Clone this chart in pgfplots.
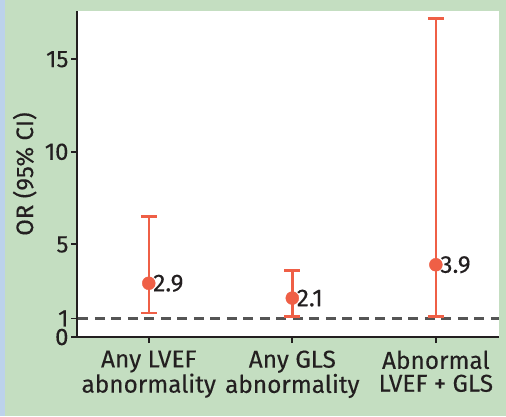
\documentclass[border=0pt]{standalone}
\usepackage{fontspec}
\setmainfont{Fira Sans}[FakeBold=0.2]
\usepackage{pgfplots}
\pgfplotsset{compat=1.18}
\definecolor{bggreen}{RGB}{196,222,193}
\definecolor{stripblue}{RGB}{188,210,235}
\definecolor{ciorange}{RGB}{239,95,70}
\definecolor{txt}{RGB}{35,31,32}
\definecolor{dashgray}{RGB}{85,85,85}

\begin{document}
\begin{tikzpicture}[x=1bp,y=1bp]
  \fill[bggreen] (0,0) rectangle (506,416);
  \fill[stripblue] (0,0) rectangle (5,416);
  \begin{axis}[
      at={(77bp,79bp)}, anchor=south west,
      scale only axis, width=422bp, height=326bp,
      xmin=-0.5, xmax=2.44, ymin=0, ymax=17.6,
      axis x line*=bottom, axis y line*=left,
      axis background/.style={fill=white},
      axis line style={-, line width=2.2bp, txt},
      tick align=outside, major tick length=6bp,
      tick style={line width=1.8bp, txt},
      xtick={0,1,2}, ytick={0,1,5,10,15},
      xticklabels={{Any LVEF\\abnormality},{Any GLS\\abnormality},{Abnormal\\LVEF + GLS}},
      xticklabel style={align=center, font=\fontsize{24.5}{23}\selectfont, text=txt, yshift=-4bp},
      yticklabel style={font=\fontsize{24}{24}\selectfont, text=txt, xshift=1bp,
        inner ysep=0bp, text height=16bp, text depth=0bp},
      /pgf/number format/assume math mode=true,
      ylabel={OR (95\% CI)},
      every axis y label/.style={at={(axis description cs:-0.124,0.5)}, rotate=90, anchor=center,
        font=\fontsize{24}{24}\selectfont, text=txt},
      clip=false,
    ]
    \addplot[dashgray, line width=2.2bp, dash pattern=on 10bp off 6.5bp]
      coordinates {(-0.49,1) (2.44,1)};
    \addplot[only marks, mark=*, mark size=6.5bp, color=ciorange,
        mark options={fill=ciorange, draw=ciorange},
        point meta=y,
        nodes near coords={\pgfmathprintnumber[fixed,precision=1]{\pgfplotspointmeta}},
        every node near coord/.style={anchor=west, xshift=1bp, text=txt,
          font=\fontsize{24.5}{24}\selectfont},
        error bars/.cd, y dir=both, y explicit,
        error bar style={line width=2.4bp, ciorange},
        error mark options={line width=2.4bp, mark size=8bp, ciorange, rotate=90}]
      table[x=x, y=y, y error plus=ep, y error minus=em] {
        x   y     ep     em
        0   2.9   3.6    1.6
        1   2.1   1.5    1.0
        2   3.9   13.3   2.8
      };
  \end{axis}
  \pgfresetboundingbox
  \useasboundingbox (0,0) rectangle (506,416);
\end{tikzpicture}
\end{document}
